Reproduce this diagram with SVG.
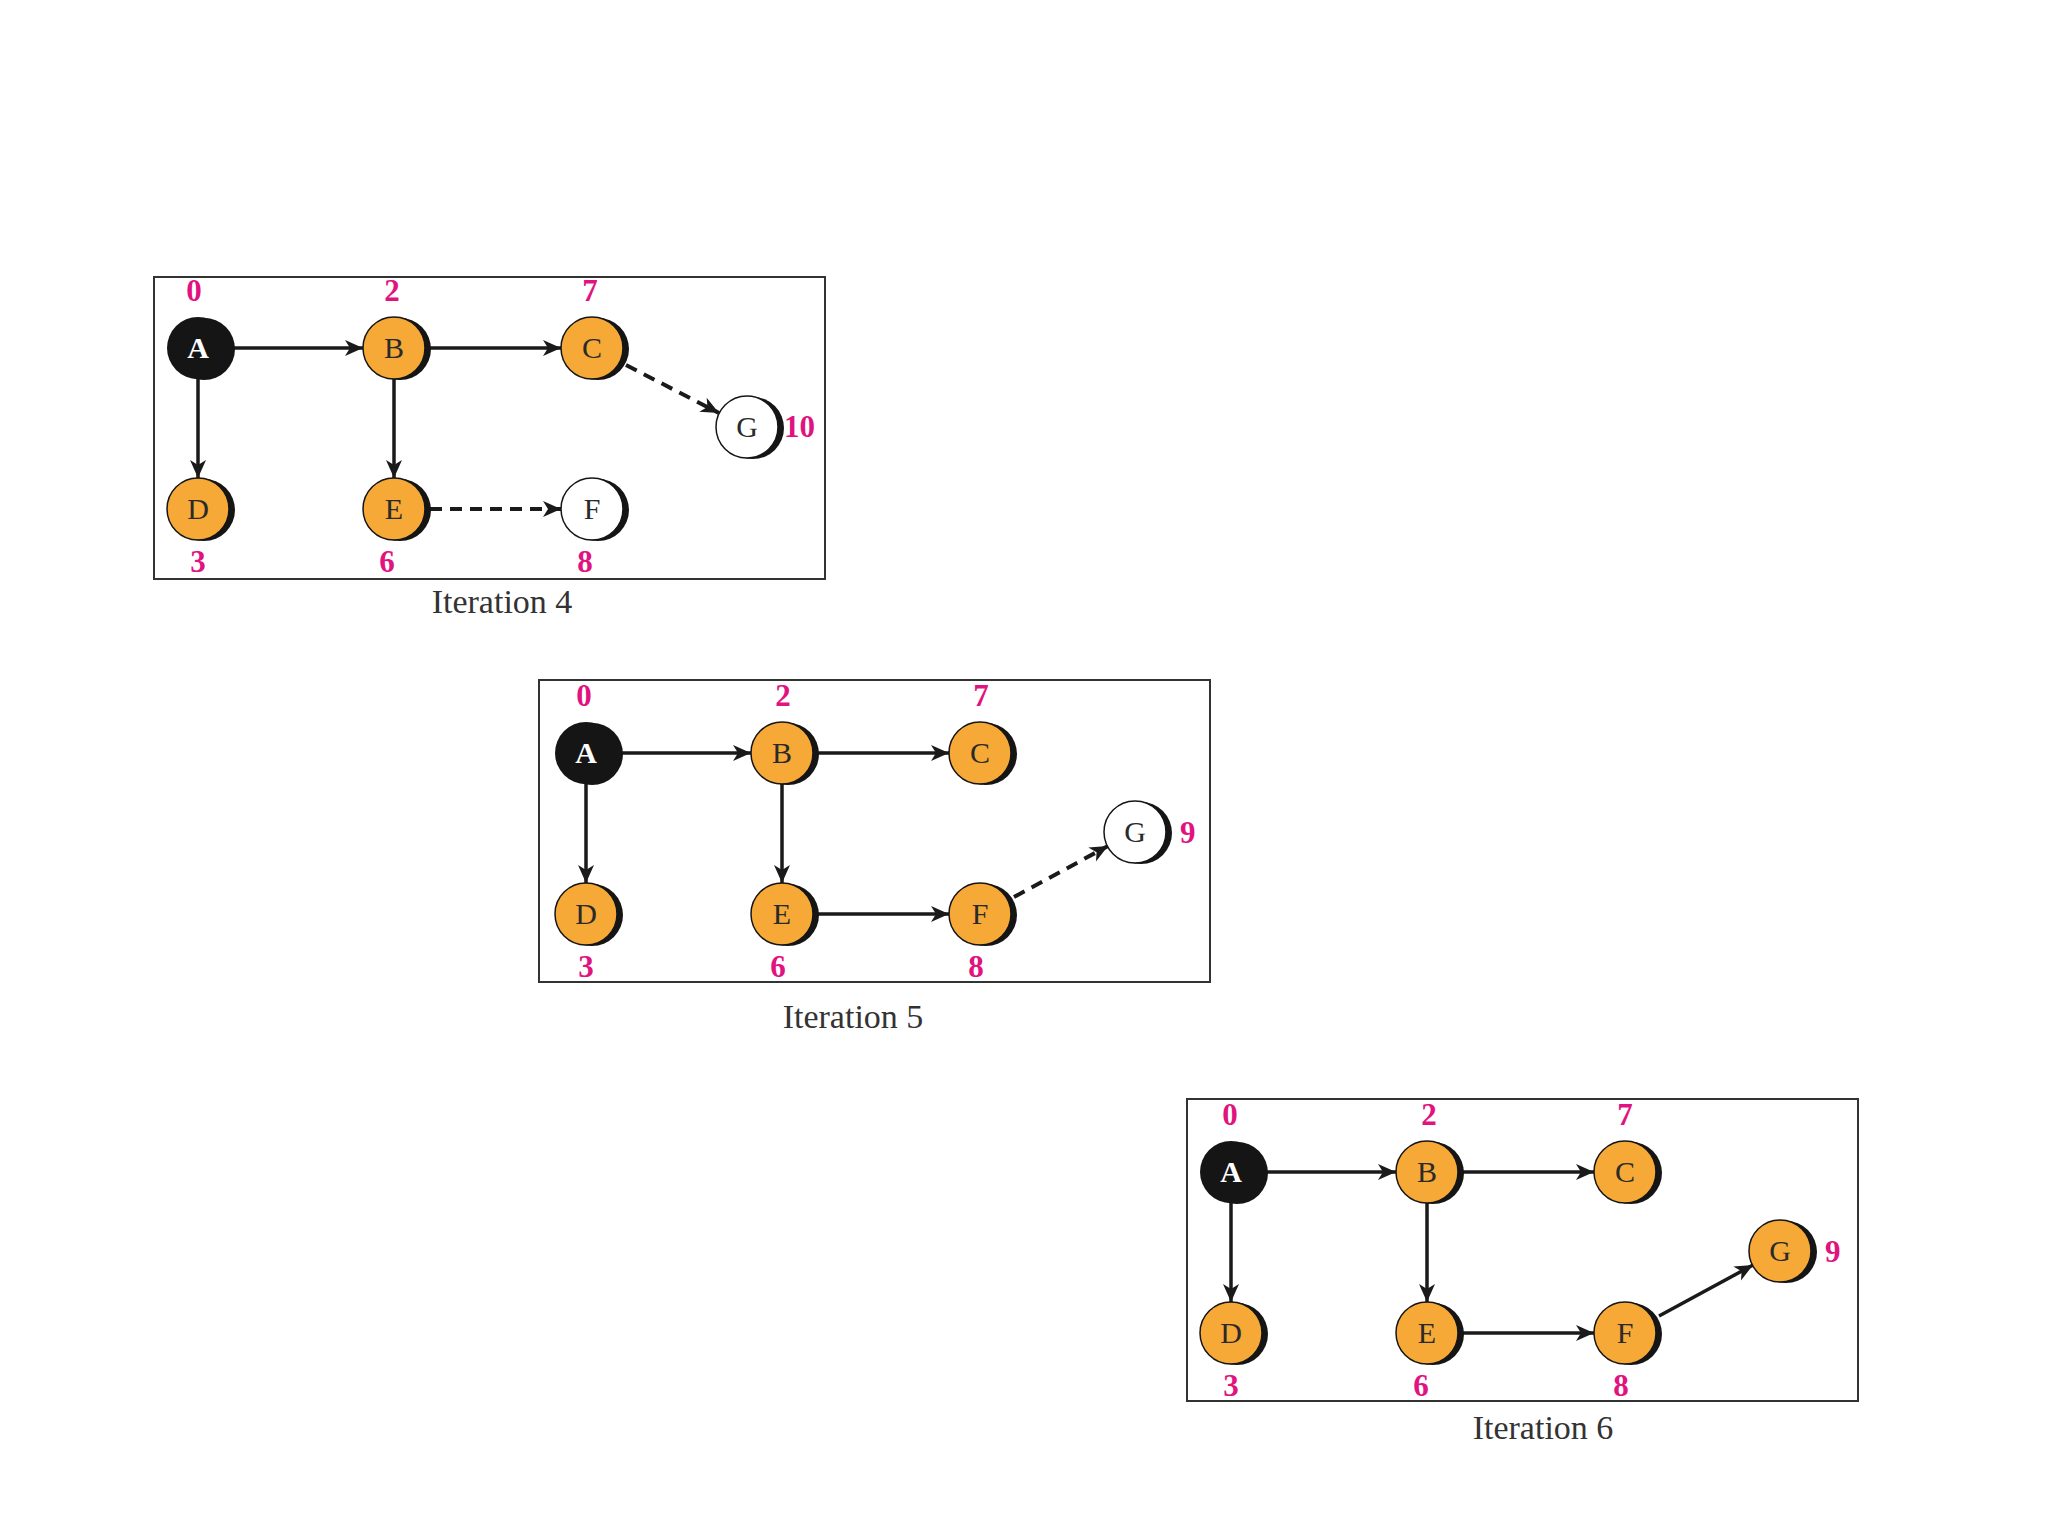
<svg xmlns="http://www.w3.org/2000/svg" width="2048" height="1536" viewBox="0 0 2048 1536">
<defs>
<style>
.frame{fill:none;stroke:#333;stroke-width:2}
.sh{fill:#151515}
.or{fill:#f6a936;stroke:#151515;stroke-width:1.5}
.wh{fill:#fff;stroke:#151515;stroke-width:1.5}
.bk{fill:#151515}
.lbl{font-family:"Liberation Serif",serif;font-size:30px;text-anchor:middle;fill:#2a2a2a}
.lbl.w{fill:#fff;font-weight:bold}
.wt{font-family:"Liberation Serif",serif;font-size:31px;font-weight:bold;fill:#e0137f;text-anchor:middle}
.wt.s{text-anchor:start}
.cap{font-family:"Liberation Serif",serif;font-size:34px;fill:#333;text-anchor:middle}
.e{fill:none;stroke:#1a1a1a;stroke-width:3.5;marker-end:url(#ah)}
.d{stroke-dasharray:12 8;stroke-width:4}
</style>
<marker id="ah" markerUnits="userSpaceOnUse" markerWidth="20" markerHeight="18" refX="18" refY="8" orient="auto" overflow="visible">
<path d="M0,0 L18,8 L0,16 L5,8 z" fill="#1a1a1a"/>
</marker>
</defs>
<rect width="2048" height="1536" fill="#fff"/>

<!-- Iteration 4 -->
<g id="iter4">
<rect class="frame" x="154" y="277" width="671" height="302"/>
<g transform="translate(154,277)">
<g id="edges4">
<path class="e" d="M80,71 L209,71"/>
<path class="e" d="M276,71 L407,71"/>
<path class="e" d="M44,102 L44,201"/>
<path class="e" d="M240,102 L240,201"/>
<path class="e d" d="M276,232 L407,232"/>
<path class="e d" d="M472,88 L565,136"/>
</g>
<g id="n4A"><circle class="sh" cx="50" cy="72" r="31"/><circle class="bk" cx="44" cy="71" r="31"/><text class="lbl w" x="44" y="81">A</text><text class="wt" x="40" y="24">0</text></g>
<g id="n4B"><circle class="sh" cx="246" cy="72" r="31"/><circle class="or" cx="240" cy="71" r="31"/><text class="lbl" x="240" y="81">B</text><text class="wt" x="238" y="24">2</text></g>
<g id="n4C"><circle class="sh" cx="444" cy="72" r="31"/><circle class="or" cx="438" cy="71" r="31"/><text class="lbl" x="438" y="81">C</text><text class="wt" x="436" y="24">7</text></g>
<g id="n4D"><circle class="sh" cx="50" cy="233" r="31"/><circle class="or" cx="44" cy="232" r="31"/><text class="lbl" x="44" y="242">D</text><text class="wt" x="44" y="295">3</text></g>
<g id="n4E"><circle class="sh" cx="246" cy="233" r="31"/><circle class="or" cx="240" cy="232" r="31"/><text class="lbl" x="240" y="242">E</text><text class="wt" x="233" y="295">6</text></g>
<g id="n4F"><circle class="sh" cx="444" cy="233" r="31"/><circle class="wh" cx="438" cy="232" r="31"/><text class="lbl" x="438" y="242">F</text><text class="wt" x="431" y="295">8</text></g>
<g id="n4G"><circle class="sh" cx="599" cy="151" r="31"/><circle class="wh" cx="593" cy="150" r="31"/><text class="lbl" x="593" y="160">G</text><text class="wt s" x="630" y="160">10</text></g>
</g>
<text class="cap" x="502" y="613">Iteration 4</text>
</g>

<!-- Iteration 5 -->
<g id="iter5">
<rect class="frame" x="539" y="680" width="671" height="302"/>
<g transform="translate(542,682)">
<g id="edges5">
<path class="e" d="M80,71 L209,71"/>
<path class="e" d="M276,71 L407,71"/>
<path class="e" d="M44,102 L44,201"/>
<path class="e" d="M240,102 L240,201"/>
<path class="e" d="M276,232 L407,232"/>
<path class="e d" d="M472,215 L566,164"/>
</g>
<g id="n5A"><circle class="sh" cx="50" cy="72" r="31"/><circle class="bk" cx="44" cy="71" r="31"/><text class="lbl w" x="44" y="81">A</text><text class="wt" x="42" y="24">0</text></g>
<g id="n5B"><circle class="sh" cx="246" cy="72" r="31"/><circle class="or" cx="240" cy="71" r="31"/><text class="lbl" x="240" y="81">B</text><text class="wt" x="241" y="24">2</text></g>
<g id="n5C"><circle class="sh" cx="444" cy="72" r="31"/><circle class="or" cx="438" cy="71" r="31"/><text class="lbl" x="438" y="81">C</text><text class="wt" x="439" y="24">7</text></g>
<g id="n5D"><circle class="sh" cx="50" cy="233" r="31"/><circle class="or" cx="44" cy="232" r="31"/><text class="lbl" x="44" y="242">D</text><text class="wt" x="44" y="295">3</text></g>
<g id="n5E"><circle class="sh" cx="246" cy="233" r="31"/><circle class="or" cx="240" cy="232" r="31"/><text class="lbl" x="240" y="242">E</text><text class="wt" x="236" y="295">6</text></g>
<g id="n5F"><circle class="sh" cx="444" cy="233" r="31"/><circle class="or" cx="438" cy="232" r="31"/><text class="lbl" x="438" y="242">F</text><text class="wt" x="434" y="295">8</text></g>
<g id="n5G"><circle class="sh" cx="599" cy="151" r="31"/><circle class="wh" cx="593" cy="150" r="31"/><text class="lbl" x="593" y="160">G</text><text class="wt s" x="638" y="161">9</text></g>
</g>
<text class="cap" x="853" y="1028">Iteration 5</text>
</g>

<!-- Iteration 6 -->
<g id="iter6">
<rect class="frame" x="1187" y="1099" width="671" height="302"/>
<g transform="translate(1187,1101)">
<g id="edges6">
<path class="e" d="M80,71 L209,71"/>
<path class="e" d="M276,71 L407,71"/>
<path class="e" d="M44,102 L44,201"/>
<path class="e" d="M240,102 L240,201"/>
<path class="e" d="M276,232 L407,232"/>
<path class="e" d="M472,215 L566,164"/>
</g>
<g id="n6A"><circle class="sh" cx="50" cy="72" r="31"/><circle class="bk" cx="44" cy="71" r="31"/><text class="lbl w" x="44" y="81">A</text><text class="wt" x="43" y="24">0</text></g>
<g id="n6B"><circle class="sh" cx="246" cy="72" r="31"/><circle class="or" cx="240" cy="71" r="31"/><text class="lbl" x="240" y="81">B</text><text class="wt" x="242" y="24">2</text></g>
<g id="n6C"><circle class="sh" cx="444" cy="72" r="31"/><circle class="or" cx="438" cy="71" r="31"/><text class="lbl" x="438" y="81">C</text><text class="wt" x="438" y="24">7</text></g>
<g id="n6D"><circle class="sh" cx="50" cy="233" r="31"/><circle class="or" cx="44" cy="232" r="31"/><text class="lbl" x="44" y="242">D</text><text class="wt" x="44" y="295">3</text></g>
<g id="n6E"><circle class="sh" cx="246" cy="233" r="31"/><circle class="or" cx="240" cy="232" r="31"/><text class="lbl" x="240" y="242">E</text><text class="wt" x="234" y="295">6</text></g>
<g id="n6F"><circle class="sh" cx="444" cy="233" r="31"/><circle class="or" cx="438" cy="232" r="31"/><text class="lbl" x="438" y="242">F</text><text class="wt" x="434" y="295">8</text></g>
<g id="n6G"><circle class="sh" cx="599" cy="151" r="31"/><circle class="or" cx="593" cy="150" r="31"/><text class="lbl" x="593" y="160">G</text><text class="wt s" x="638" y="161">9</text></g>
</g>
<text class="cap" x="1543" y="1439">Iteration 6</text>
</g>
</svg>
